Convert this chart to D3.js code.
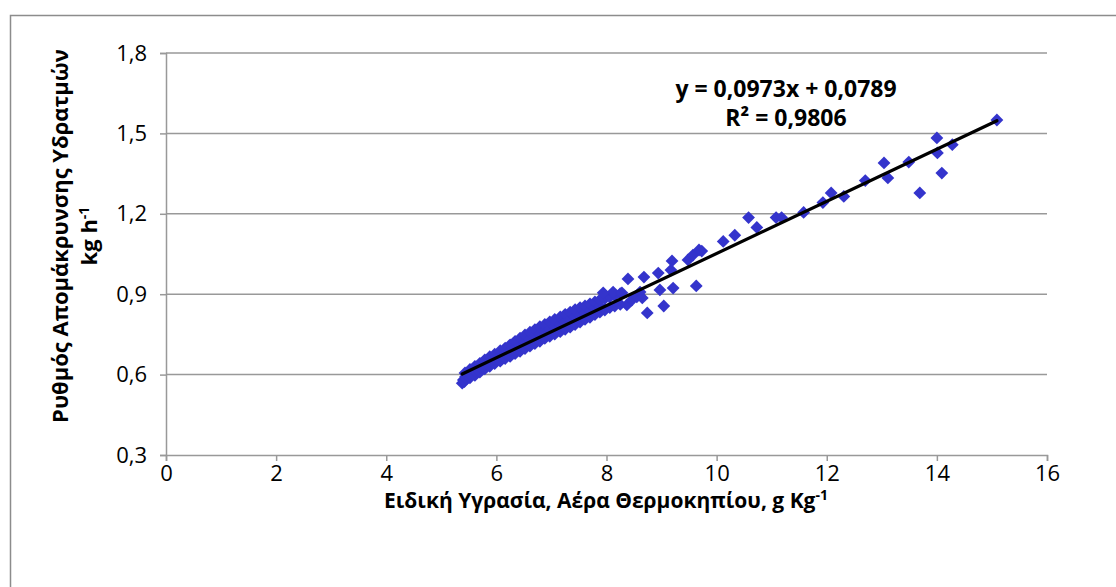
<!DOCTYPE html>
<html>
<head>
<meta charset="utf-8">
<script src="https://cdn.jsdelivr.net/npm/d3@7"></script>
<style>
  html, body { margin: 0; padding: 0; background: #fff; }
  svg { display: block; }
  text { font-family: "Open Sans", "DejaVu Sans", sans-serif; fill: #000; }
</style>
</head>
<body>
<svg id="chart" width="1116" height="587"></svg>
<script>
// Specific humidity of greenhouse air (g/kg) vs. water vapour removal rate (kg/h)
const humidity = [
  5.38, 5.40, 5.42, 5.44, 5.46, 5.48, 5.43,
  5.52, 5.52, 5.52,
  5.61, 5.61, 5.61,
  5.70, 5.70, 5.70,
  5.79, 5.79, 5.79,
  5.88, 5.88, 5.88,
  5.97, 5.97, 5.97,
  6.07, 6.07, 6.07,
  6.16, 6.16, 6.16,
  6.25, 6.25, 6.25,
  6.34, 6.34, 6.34,
  6.43, 6.43, 6.43,
  6.52, 6.52, 6.52,
  6.61, 6.61, 6.61,
  6.70, 6.70, 6.70,
  6.79, 6.79, 6.79,
  6.88, 6.88, 6.88,
  6.97, 6.97, 6.97,
  7.06, 7.06, 7.06,
  7.16, 7.16, 7.16,
  7.25, 7.25, 7.25,
  7.34, 7.34, 7.34,
  7.43, 7.43, 7.43,
  7.52, 7.52, 7.52,
  7.61, 7.61, 7.61,
  7.70, 7.70, 7.70,
  7.79, 7.79, 7.79,
  7.88, 7.88, 7.88,
  7.97, 7.97,
  8.06, 8.06,
  8.15, 8.15,
  8.25, 8.25,
  8.12, 7.94, 8.28, 8.37, 8.46, 8.39, 8.55, 8.61, 8.65, 8.68,
  8.74, 8.94, 8.97, 9.04, 9.17, 9.19, 9.21, 9.48, 9.57, 9.63,
  9.68, 9.73, 10.12, 10.33, 10.58, 10.73, 11.08, 11.18, 11.58, 11.93,
  12.08, 12.31, 12.70, 13.04, 13.11, 13.49, 13.69, 14.00, 14.01, 14.09,
  14.28, 15.09
];
const removal = [
  0.568, 0.580, 0.574, 0.592, 0.585, 0.600, 0.606,
  0.588, 0.603, 0.619,
  0.597, 0.614, 0.631,
  0.609, 0.627, 0.642,
  0.621, 0.638, 0.655,
  0.631, 0.649, 0.667,
  0.641, 0.658, 0.676,
  0.650, 0.670, 0.689,
  0.660, 0.679, 0.699,
  0.668, 0.690, 0.711,
  0.678, 0.701, 0.724,
  0.687, 0.711, 0.736,
  0.697, 0.722, 0.748,
  0.706, 0.733, 0.758,
  0.716, 0.742, 0.768,
  0.724, 0.751, 0.779,
  0.735, 0.761, 0.787,
  0.743, 0.770, 0.797,
  0.751, 0.779, 0.806,
  0.760, 0.788, 0.815,
  0.769, 0.797, 0.825,
  0.777, 0.806, 0.833,
  0.787, 0.815, 0.842,
  0.796, 0.823, 0.850,
  0.806, 0.830, 0.856,
  0.814, 0.838, 0.864,
  0.824, 0.848, 0.871,
  0.833, 0.856, 0.879,
  0.841, 0.884,
  0.850, 0.890,
  0.856, 0.896,
  0.862, 0.902,
  0.908, 0.905, 0.905, 0.860, 0.878, 0.957, 0.890, 0.908, 0.886, 0.964,
  0.830, 0.979, 0.916, 0.856, 0.990, 1.024, 0.923, 1.028, 1.046, 0.931,
  1.065, 1.061, 1.097, 1.120, 1.186, 1.149, 1.186, 1.186, 1.205, 1.242,
  1.278, 1.265, 1.324, 1.390, 1.334, 1.393, 1.278, 1.483, 1.427, 1.352,
  1.458, 1.550
];

// Linear fit reported on the chart
const slope = 0.0973;
const intercept = 0.0789;
const rSquared = 0.9806;

const xTicks = [0, 2, 4, 6, 8, 10, 12, 14, 16];
const yTicks = [0.3, 0.6, 0.9, 1.2, 1.5, 1.8];

const fmtComma = (v, d) => v.toFixed(d).replace('.', ',');

const svg = d3.select('#chart');
const W = 1116, H = 587;

// outer frame
svg.append('rect')
  .attr('x', 10.5).attr('y', 15.5)
  .attr('width', W + 20).attr('height', H + 20)
  .attr('fill', '#fff').attr('stroke', '#8c8c8c').attr('stroke-width', 1.5);

const plot = { left: 166, right: 1047, top: 53, bottom: 455 };

const x = d3.scaleLinear().domain([0, 16]).range([plot.left, plot.right]);
const y = d3.scaleLinear().domain([0.3, 1.8]).range([plot.bottom, plot.top]);

const gridColor = '#999999';
const font = '"Open Sans", "DejaVu Sans", sans-serif';

// horizontal gridlines
svg.append('g')
  .selectAll('line')
  .data(yTicks.filter(t => t > 0.3))
  .join('line')
  .attr('x1', plot.left).attr('x2', plot.right)
  .attr('y1', d => y(d)).attr('y2', d => y(d))
  .attr('stroke', gridColor).attr('stroke-width', 1.5);

// y axis
const yAxis = svg.append('g')
  .attr('transform', `translate(${plot.left},0)`)
  .call(d3.axisLeft(y).tickValues(yTicks).tickSize(6).tickPadding(13)
    .tickFormat(d => fmtComma(d, 1)));
yAxis.select('.domain').attr('stroke', gridColor).attr('stroke-width', 1.5);
yAxis.selectAll('.tick line').attr('stroke', gridColor).attr('stroke-width', 1.5);
yAxis.selectAll('.tick text')
  .attr('font-size', 22).attr('font-family', font).attr('fill', '#000');

// x axis
const xAxis = svg.append('g')
  .attr('transform', `translate(0,${plot.bottom})`)
  .call(d3.axisBottom(x).tickValues(xTicks).tickSize(6).tickPadding(4)
    .tickFormat(d => d));
xAxis.select('.domain').attr('stroke', gridColor).attr('stroke-width', 1.5);
xAxis.selectAll('.tick line').attr('stroke', gridColor).attr('stroke-width', 1.5);
xAxis.selectAll('.tick text')
  .attr('font-size', 22).attr('font-family', font).attr('fill', '#000');

// data points as diamonds
const points = humidity.map((h, i) => [h, removal[i]]);
const r = 6.4;
svg.append('g')
  .selectAll('path')
  .data(points)
  .join('path')
  .attr('d', d => {
    const cx = x(d[0]), cy = y(d[1]);
    return `M${cx},${cy - r}L${cx + r},${cy}L${cx},${cy + r}L${cx - r},${cy}Z`;
  })
  .attr('fill', '#3434CC');

// trend line over the observed humidity range
const xMin = d3.min(humidity), xMax = d3.max(humidity);
svg.append('line')
  .attr('x1', x(xMin)).attr('y1', y(slope * xMin + intercept))
  .attr('x2', x(xMax)).attr('y2', y(slope * xMax + intercept))
  .attr('stroke', '#000').attr('stroke-width', 3.2).attr('stroke-linecap', 'round');

// regression equation
const eq = svg.append('g').attr('font-weight', 'bold').attr('font-size', 23);
eq.append('text')
  .attr('x', 786).attr('y', 97).attr('text-anchor', 'middle')
  .text(`y = ${fmtComma(slope, 4)}x + ${fmtComma(intercept, 4)}`);
eq.append('text')
  .attr('x', 786).attr('y', 126).attr('text-anchor', 'middle')
  .text(`R² = ${fmtComma(rSquared, 4)}`);

// x axis title
const xt = svg.append('text')
  .attr('x', 606).attr('y', 508).attr('text-anchor', 'middle')
  .attr('font-weight', 'bold').attr('font-size', 21);
xt.append('tspan').text('Ειδική Υγρασία, Αέρα Θερμοκηπίου, g Kg');
xt.append('tspan').attr('font-size', 14).attr('dy', -8).text('-1');

// y axis title (two lines)
const yt = svg.append('g').attr('transform', 'translate(0,236) rotate(-90)')
  .attr('font-weight', 'bold').attr('font-size', 22);
yt.append('text').attr('x', 0).attr('y', 68).attr('text-anchor', 'middle')
  .text('Ρυθμός Απομάκρυνσης Υδρατμών');
const yt2 = yt.append('text').attr('x', 0).attr('y', 97).attr('text-anchor', 'middle');
yt2.append('tspan').text('kg h');
yt2.append('tspan').attr('font-size', 14).attr('dy', -8).text('-1');
</script>
</body>
</html>
